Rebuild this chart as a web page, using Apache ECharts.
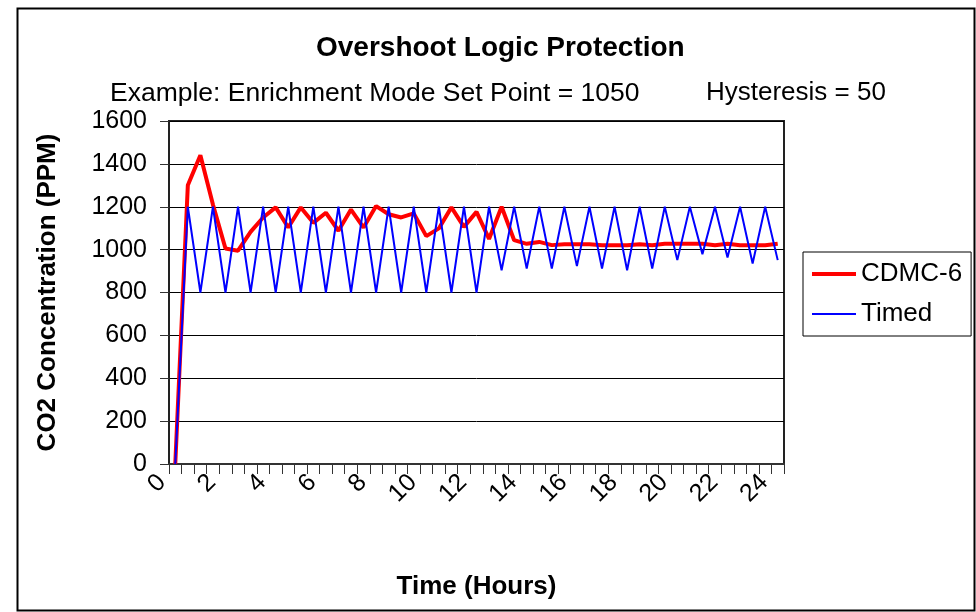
<!DOCTYPE html>
<html>
<head>
<meta charset="utf-8">
<script src="https://cdn.jsdelivr.net/npm/echarts@6/dist/echarts.min.js"></script>
<style>
html,body{margin:0;padding:0;background:#fff;}
#chart1{width:976px;height:612px;}
</style>
</head>
<body>
<div id="chart1"></div>
<script>
// half-hour steps, 0 .. 24 h
var hours = [];
for (var i = 0; i <= 48; i++) { hours.push(String(i / 2)); }

var yTicks = [0, 200, 400, 600, 800, 1000, 1200, 1400, 1600];

var cdmc6 = [0, 1300, 1440, 1210, 1005, 995, 1083, 1150, 1197, 1103,
    1197, 1125, 1172, 1088, 1187, 1103, 1203, 1165, 1150, 1169,
    1063, 1099, 1197, 1106, 1176, 1050, 1200, 1044, 1027, 1036,
    1021, 1025, 1025, 1025, 1020, 1020, 1020, 1025, 1020, 1027,
    1027, 1027, 1027, 1020, 1027, 1020, 1020, 1020, 1027];

var timed = [0, 1200, 800, 1200, 800, 1200, 800, 1200, 800, 1200,
    800, 1200, 800, 1200, 800, 1200, 800, 1200, 800, 1200,
    800, 1200, 800, 1200, 800, 1200, 904, 1200, 912, 1200,
    912, 1200, 923, 1200, 912, 1200, 904, 1200, 912, 1200,
    951, 1200, 979, 1200, 963, 1200, 935, 1200, 951];

var font = 'Liberation Sans, Arial, Helvetica, sans-serif';

var myChart = {
    init: function () {
        var option = {
            animation: false,
            textStyle: { fontFamily: font, color: '#000' },
            title: [
                { text: 'Overshoot Logic Protection', left: 311, top: 29,
                  textStyle: { fontFamily: font, fontSize: 28, fontWeight: 'bold', color: '#000' } },
                { text: 'Example: Enrichment Mode Set Point = 1050', left: 105, top: 75,
                  textStyle: { fontFamily: font, fontSize: 26.5, fontWeight: 'normal', color: '#000' } },
                { text: 'Hysteresis = 50', left: 701, top: 75,
                  textStyle: { fontFamily: font, fontSize: 26, fontWeight: 'normal', color: '#000' } }
            ],
            graphic: [{
                type: 'rect', silent: true,
                shape: { x: 17.5, y: 8.5, width: 957, height: 602 },
                style: { fill: null, stroke: '#000', lineWidth: 2 }
            }],
            legend: {
                orient: 'vertical',
                left: 803, top: 252,
                padding: [9, 9, 9, 9],
                itemWidth: 44, itemHeight: 14, itemGap: 14,
                borderColor: '#000', borderWidth: 1,
                textStyle: { fontFamily: font, fontSize: 26, color: '#000' },
                data: [
                    { name: 'CDMC-6', icon: 'path://M0,0H44V4H0Z', itemStyle: { color: '#ff0000' } },
                    { name: 'Timed', icon: 'path://M0,0H44V2H0Z', itemStyle: { color: '#0000ff' } }
                ]
            },
            grid: {
                left: 169, right: 192, top: 121, bottom: 148,
                show: true, borderColor: '#222', borderWidth: 2
            },
            xAxis: {
                type: 'category',
                data: hours,
                boundaryGap: true,
                name: 'Time (Hours)',
                nameLocation: 'middle',
                nameGap: 110,
                nameTextStyle: { fontFamily: font, fontSize: 26, fontWeight: 'bold', color: '#000' },
                axisLine: { lineStyle: { color: '#333', width: 2 } },
                axisTick: { show: true, interval: 0, length: 10, lineStyle: { color: '#333', width: 1 } },
                axisLabel: {
                    interval: 3, rotate: 45, margin: 1,
                    padding: [0, 19, 0, 0],
                    fontFamily: font, fontSize: 25, color: '#000'
                },
                splitLine: { show: false }
            },
            yAxis: {
                type: 'value',
                min: yTicks[0], max: yTicks[yTicks.length - 1], interval: 200,
                name: 'CO2 Concentration (PPM)',
                nameLocation: 'middle',
                nameGap: 108,
                nameTextStyle: { fontFamily: font, fontSize: 26, fontWeight: 'bold', color: '#000' },
                axisLine: { show: true, lineStyle: { color: '#222', width: 2 } },
                axisTick: { show: true, length: 9, lineStyle: { color: '#333', width: 1 } },
                axisLabel: {
                    margin: 22, fontFamily: font, fontSize: 25, color: '#000',
                    formatter: function (v) { return String(v); }
                },
                splitLine: { lineStyle: { color: '#000', width: 1 } }
            },
            series: [
                {
                    name: 'CDMC-6', type: 'line', data: cdmc6,
                    symbol: 'none', z: 3,
                    lineStyle: { color: '#ff0000', width: 4 },
                    itemStyle: { color: '#ff0000' }
                },
                {
                    name: 'Timed', type: 'line', data: timed,
                    symbol: 'none', z: 4,
                    lineStyle: { color: '#0000ff', width: 2 },
                    itemStyle: { color: '#0000ff' }
                }
            ]
        };
        var chart = echarts.init(document.getElementById('chart1'));
        chart.setOption(option);
        return chart;
    }
};

myChart.init();
</script>
</body>
</html>
